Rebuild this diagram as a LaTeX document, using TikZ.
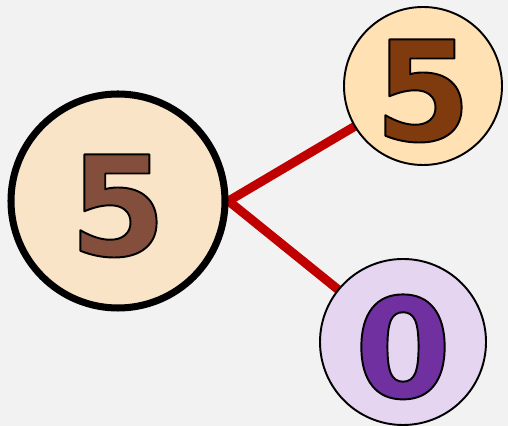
\documentclass[tikz,border=0pt]{standalone}
\usepackage{fontspec}
\newfontfamily\digitfont{DejaVu Sans}[BoldFont={DejaVu Sans Bold}]
\definecolor{bgGrey}{HTML}{F2F2F2}
\definecolor{edgeRed}{HTML}{C00000}
\definecolor{peachFill}{HTML}{FAE4C7}
\definecolor{orangeFill}{HTML}{FFE1B4}
\definecolor{lilacFill}{HTML}{E6D5F1}
\definecolor{brownDigit}{HTML}{844E3C}
\definecolor{rustDigit}{HTML}{7F3A0E}
\definecolor{purpleDigit}{HTML}{7030A0}
% filled digit with a black outline (fill+stroke text mode)
\newcommand{\outdigit}[2]{\raisebox{-2.8pt}[\height][\depth]{\digitfont\bfseries\color{#1}\special{pdf:literal direct 2 Tr 1.1 w 1 j 0 G}#2\special{pdf:literal direct 0 Tr}}}
\pgfdeclarelayer{bg}
\pgfdeclarelayer{edges}
\pgfsetlayers{bg,edges,main}
\tikzset{
	ball/.style={circle,draw=black,line width=1.1pt,inner sep=0pt,font=\fontsize{79}{79}\selectfont},
	edge/.style={draw=edgeRed,line width=5.1pt}
}
\begin{document}
\begin{tikzpicture}
	\begin{pgfonlayer}{bg}
		\fill [bgGrey] (0,0) rectangle (10.16,8.52);
	\end{pgfonlayer}
	\useasboundingbox (0,0) rectangle (10.16,8.52);
	
	\node[ball,minimum size=4.28cm,line width=4pt,fill=peachFill] (root) at (2.36,4.50) {\outdigit{brownDigit}{5}};
	\node[ball,minimum size=3.16cm,fill=orangeFill] (left) at (8.46,6.80) {\outdigit{rustDigit}{5}};
	\node[ball,minimum size=3.32cm,fill=lilacFill] (right) at (8.06,1.68) {\outdigit{purpleDigit}{0}};
	
	\begin{pgfonlayer}{edges}
		\draw [edge] (root.east) -- (left.center);
		\draw [edge] (root.east) -- (right.center);
	\end{pgfonlayer}
\end{tikzpicture}
\end{document}
